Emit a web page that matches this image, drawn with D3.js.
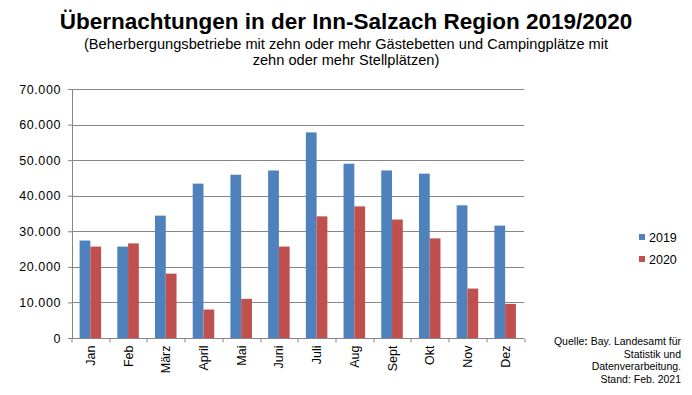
<!DOCTYPE html>
<html>
<head>
<meta charset="utf-8">
<script src="https://cdn.jsdelivr.net/npm/d3@7"></script>
<style>
  body { margin: 0; background: #fff; }
  svg { font-family: "Liberation Sans", Arial, sans-serif; }
</style>
</head>
<body>
<div id="chart"></div>
<script>
// Monatswerte
const months = ['Jan', 'Feb', 'März', 'April', 'Mai', 'Juni', 'Juli', 'Aug', 'Sept', 'Okt', 'Nov', 'Dez'];
const seriesNames = ['2019', '2020'];
const values2019 = [27400, 25700, 34400, 43400, 45900, 47100, 57800, 49000, 47100, 46200, 37300, 31600];
const values2020 = [25700, 26600, 18100, 8000, 11000, 25700, 34200, 37000, 33300, 28000, 13900, 9600];
const yTicks = [0, 10000, 20000, 30000, 40000, 50000, 60000, 70000];
const sourceLines = ['Bay. Landesamt für', 'Statistik und', 'Datenverarbeitung.', 'Stand: Feb. 2021'];

const colors = ['#4F81BD', '#C0504D'];
const W = 692, H = 395;
const margin = {top: 89, right: 168, bottom: 57, left: 71.5};
const width = W - margin.left - margin.right;
const height = H - margin.top - margin.bottom;

const svg = d3.select('#chart').append('svg')
    .attr('width', W)
    .attr('height', H);

// Titel
svg.append('text')
    .attr('x', 346).attr('y', 29)
    .attr('text-anchor', 'middle')
    .style('font-size', '22.5px')
    .style('font-weight', 'bold')
    .text('Übernachtungen in der Inn-Salzach Region 2019/2020');

svg.append('text')
    .attr('x', 346).attr('y', 49)
    .attr('text-anchor', 'middle')
    .style('font-size', '14.6px')
    .text('(Beherbergungsbetriebe mit zehn oder mehr Gästebetten und Campingplätze mit');
svg.append('text')
    .attr('x', 346).attr('y', 65)
    .attr('text-anchor', 'middle')
    .style('font-size', '14.6px')
    .text('zehn oder mehr Stellplätzen)');

const g = svg.append('g')
    .attr('transform', `translate(${margin.left},${margin.top})`);

const x0 = d3.scaleBand()
    .domain(months)
    .range([0, width])
    .paddingInner(0.429)
    .paddingOuter(0.2145);

const x1 = d3.scaleBand()
    .domain(seriesNames)
    .range([0, x0.bandwidth()]);

const y = d3.scaleLinear()
    .domain([0, 70000])
    .range([height, 0]);

// Gitterlinien
g.selectAll('.grid')
    .data(yTicks.filter(d => d > 0))
    .enter().append('line')
    .attr('x1', 0).attr('x2', width)
    .attr('y1', d => Math.round(y(d)) + 0.5)
    .attr('y2', d => Math.round(y(d)) + 0.5)
    .attr('stroke', '#868686')
    .attr('stroke-width', 1);

// Balken
const data = months.map((m, i) => ({month: m, vals: [values2019[i], values2020[i]]}));
const groups = g.selectAll('.month')
    .data(data)
    .enter().append('g')
    .attr('transform', d => `translate(${x0(d.month)},0)`);

groups.selectAll('rect')
    .data(d => d.vals.map((v, i) => ({key: seriesNames[i], value: v, i: i})))
    .enter().append('rect')
    .attr('x', d => x1(d.key))
    .attr('y', d => y(d.value))
    .attr('width', x1.bandwidth())
    .attr('height', d => height - y(d.value))
    .attr('fill', d => colors[d.i]);

// Y-Achse
const fmt = d => d === 0 ? '0' : d3.format(',')(d).replace(/,/g, '.');
const yAxis = g.append('g')
    .attr('transform', 'translate(0.5,0)')
    .call(d3.axisLeft(y).tickValues(yTicks).tickSize(4).tickSizeOuter(0).tickFormat(fmt));
yAxis.select('.domain').attr('stroke', '#868686');
yAxis.selectAll('.tick line').attr('stroke', '#868686');
yAxis.selectAll('.tick text')
    .attr('x', -11)
    .style('font-size', '12.5px')
    .style('letter-spacing', '0.6px')
    .attr('fill', '#000');

// X-Achse
const boundaries = d3.range(months.length + 1).map(i => i * width / months.length);
const xAxis = g.append('g')
    .attr('transform', `translate(0,${Math.round(height) + 0.5})`);
xAxis.append('line')
    .attr('x1', 0).attr('x2', width)
    .attr('stroke', '#868686');
xAxis.selectAll('.xtick')
    .data(boundaries)
    .enter().append('line')
    .attr('x1', d => Math.round(d) + 0.5).attr('x2', d => Math.round(d) + 0.5)
    .attr('y1', 0).attr('y2', 4)
    .attr('stroke', '#868686');
xAxis.selectAll('.xlabel')
    .data(months)
    .enter().append('text')
    .attr('transform', d => `translate(${x0(d) + x0.bandwidth() / 2 + 4.5},7) rotate(-90)`)
    .attr('text-anchor', 'end')
    .style('font-size', '12.5px')
    .text(d => d);

// Legende
const legend = svg.append('g')
    .attr('transform', 'translate(639,234)');
seriesNames.forEach((name, i) => {
    const row = legend.append('g').attr('transform', `translate(0,${i * 22})`);
    row.append('rect')
        .attr('width', 6).attr('height', 6)
        .attr('fill', colors[i]);
    row.append('text')
        .attr('x', 10).attr('y', 7.5)
        .style('font-size', '12.5px')
        .text(name);
});

// Quelle
const src = svg.append('text')
    .attr('x', 681)
    .attr('text-anchor', 'end')
    .style('font-size', '10.5px');
const first = src.append('tspan').attr('x', 681).attr('y', 345);
first.append('tspan').text('Quelle');
first.append('tspan').style('font-weight', 'bold').text(':');
first.append('tspan').text(' ' + sourceLines[0]);
sourceLines.slice(1).forEach((l, i) => {
    src.append('tspan').attr('x', 681).attr('y', 357.5 + i * 12.5).text(l);
});
</script>
</body>
</html>
